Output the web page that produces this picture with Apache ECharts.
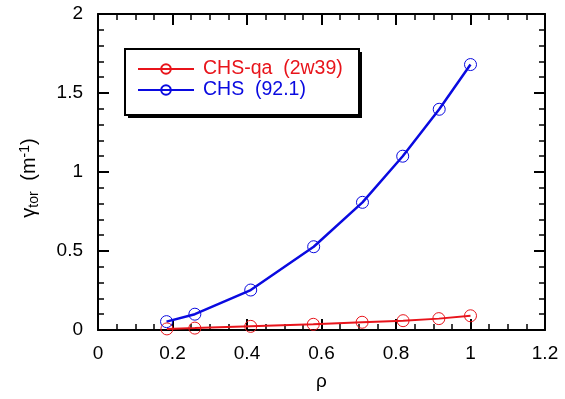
<!DOCTYPE html>
<html>
<head>
<meta charset="utf-8">
<script src="https://cdn.jsdelivr.net/npm/echarts@6/dist/echarts.min.js"></script>
<style>
  html, body { margin: 0; padding: 0; background: #fff; }
  #chart { width: 565px; height: 399px; }
</style>
</head>
<body>
<div id="chart"></div>
<script>
// values
const rhoQa = [0.185, 0.26, 0.41, 0.578, 0.709, 0.819, 0.915, 1.0];
const gammaQa = [0.007, 0.012, 0.023, 0.036, 0.049, 0.059, 0.072, 0.09];
const rhoChs = [0.184, 0.26, 0.41, 0.579, 0.71, 0.818, 0.916, 1.0];
const gammaChs = [0.053, 0.10, 0.253, 0.527, 0.808, 1.10, 1.397, 1.68];

const seriesNames = ['CHS-qa  (2w39)', 'CHS  (92.1)'];
const RED = '#e8141b';
const BLUE = '#0a0ae0';
const FONT = 'Liberation Sans, Arial, sans-serif';

const zip = (xs, ys) => xs.map((x, i) => [x, ys[i]]);

const chart = echarts.init(document.getElementById('chart'), null, { renderer: 'canvas' });

const axisCommon = {
  axisLine: { show: true, onZero: false, lineStyle: { color: '#000', width: 2 } },
  axisTick: { show: true, inside: true, length: 11, lineStyle: { color: '#000', width: 2 } },
  minorTick: { show: true, length: 6, lineStyle: { color: '#000', width: 1.5 } },
  splitLine: { show: false },
};

const lineSeries = (name, data, color, width) => ({
  name,
  type: 'line',
  data,
  symbol: 'circle',
  symbolSize: 12,
  lineStyle: { color, width },
  itemStyle: { color: 'rgba(0,0,0,0)', borderColor: color, borderWidth: 1 },
  emphasis: { disabled: true },
  animation: false,
  z: 3,
});

chart.setOption({
  backgroundColor: '#fff',
  animation: false,
  grid: { left: 98, right: 20, top: 14, bottom: 69, containLabel: false },
  xAxis: [
    {
      type: 'value', position: 'bottom', min: 0, max: 1.2, interval: 0.2,
      ...axisCommon,
      minorTick: { ...axisCommon.minorTick, splitNumber: 4 },
      axisLabel: { color: '#000', fontSize: 19, fontFamily: FONT, margin: 14 },
      name: 'ρ', nameLocation: 'middle', nameGap: 42,
      nameTextStyle: { color: '#000', fontSize: 19, fontFamily: FONT },
    },
    {
      type: 'value', position: 'top', min: 0, max: 1.2, interval: 0.2,
      ...axisCommon,
      minorTick: { ...axisCommon.minorTick, splitNumber: 4 },
      axisLabel: { show: false },
    },
  ],
  yAxis: [
    {
      type: 'value', position: 'left', min: 0, max: 2, interval: 0.5,
      ...axisCommon,
      minorTick: { ...axisCommon.minorTick, splitNumber: 5 },
      axisLabel: { color: '#000', fontSize: 19, fontFamily: FONT, margin: 15 },
      name: '{g|γ}{sub|tor}{sp|  }{g|(m}{sup|-1}{g|)}',
      nameLocation: 'middle', nameGap: 57,
      nameTextStyle: {
        color: '#000', fontFamily: FONT,
        padding: [0, 12, 0, 0],
        rich: {
          g: { fontSize: 20, fontFamily: FONT, color: '#000', verticalAlign: 'middle' },
          sp: { fontSize: 19, fontFamily: FONT },
          sub: { fontSize: 14, fontFamily: FONT, color: '#000', verticalAlign: 'bottom', padding: [9, 0, 0, 0] },
          sup: { fontSize: 14, fontFamily: FONT, color: '#000', verticalAlign: 'top', padding: [0, 0, 8, 0] },
        },
      },
    },
    {
      type: 'value', position: 'right', min: 0, max: 2, interval: 0.5,
      ...axisCommon,
      minorTick: { ...axisCommon.minorTick, splitNumber: 5 },
      axisLabel: { show: false },
    },
  ],
  legend: {
    orient: 'vertical',
    left: 132, top: 54,
    itemWidth: 56, itemHeight: 12, itemGap: 1,
    selectedMode: false,
    data: seriesNames,
    textStyle: { fontSize: 19.5, fontFamily: FONT, padding: [0, 0, 0, 4] },
  },
  graphic: [
    { type: 'rect', left: 128, top: 52, z: -1, shape: { width: 234, height: 66 }, style: { fill: '#000' } },
    { type: 'rect', left: 124, top: 48, z: 0, shape: { width: 234, height: 66 }, style: { fill: '#fff', stroke: '#000', lineWidth: 2 } },
  ],
  series: [
    { ...lineSeries(seriesNames[0], zip(rhoQa, gammaQa), RED, 2) },
    { ...lineSeries(seriesNames[1], zip(rhoChs, gammaChs), BLUE, 2.5) },
  ],
});

// color the legend text like its series
chart.setOption({
  legend: {
    data: [
      { name: seriesNames[0], textStyle: { color: RED } },
      { name: seriesNames[1], textStyle: { color: BLUE } },
    ],
  },
});
</script>
</body>
</html>
